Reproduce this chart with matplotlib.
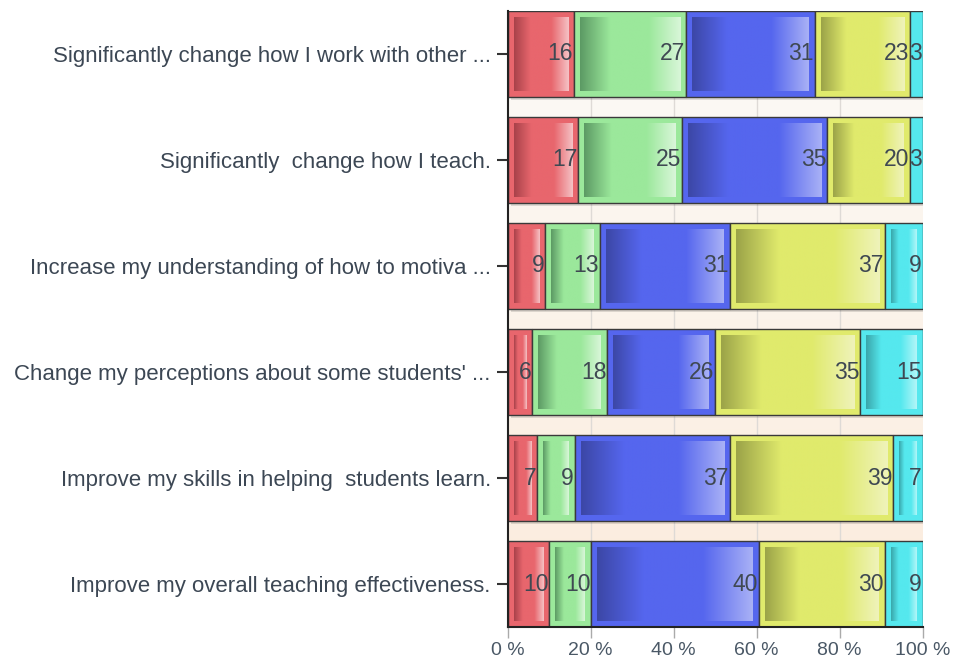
import numpy as np
import matplotlib
matplotlib.use("Agg")
import matplotlib.pyplot as plt
from matplotlib.colors import to_rgb

categories = [
    "Significantly change how I work with other ...",
    "Significantly  change how I teach.",
    "Increase my understanding of how to motiva ...",
    "Change my perceptions about some students' ...",
    "Improve my skills in helping  students learn.",
    "Improve my overall teaching effectiveness.",
]
s1 = [16, 17, 9, 6, 7, 10]
s2 = [27, 25, 13, 18, 9, 10]
s3 = [31, 35, 31, 26, 37, 40]
s4 = [23, 20, 37, 35, 39, 30]
s5 = [3, 3, 9, 15, 7, 9]
series = [s1, s2, s3, s4, s5]
xticks = [0, 20, 40, 60, 80, 100]
xticklabels = ["0 %", "20 %", "40 %", "60 %", "80 %", "100 %"]

base_colors = ["#e8666d", "#9be89b", "#5566ee", "#e0ea6c", "#55e8ee"]
dark_colors = ["#a8424a", "#5c9a64", "#3c47a6", "#9ba348", "#39a6aa"]
light_colors = ["#f5c2c5", "#d9f6d9", "#a9b1f6", "#eff3ba", "#b2f6f8"]

W, H, DPI = 955, 662, 100
fig = plt.figure(figsize=(W / DPI, H / DPI), dpi=DPI)
ax_left, ax_right = 507.5, 922.5
ax_top, ax_bot = 11, 627
ax = fig.add_axes([ax_left / W, 1 - ax_bot / H, (ax_right - ax_left) / W, (ax_bot - ax_top) / H])

n = len(categories)
ypos = np.arange(n)[::-1].astype(float)
bh = 0.81
ax.set_xlim(0, 100)
ax.set_ylim(-bh / 2, n - 1 + bh / 2)

# background gradient
grad = np.linspace(0, 1, 256)[:, None]
top_c = np.array(to_rgb("#fcfbf8"))
bot_c = np.array(to_rgb("#fbebdc"))
bg = top_c[None, None, :] * (1 - grad[:, :, None]) + bot_c[None, None, :] * grad[:, :, None]
ax.imshow(bg, extent=[0, 100, -bh / 2, n - 1 + bh / 2], aspect="auto", zorder=0, origin="upper")

for x in xticks[1:-1]:
    ax.axvline(x, color="#dedad6", lw=1.0, zorder=0.5)

totals = np.sum(np.array(series, dtype=float), axis=0)
px_x = 100.0 / (ax_right - ax_left)
px_y = 1.0 / 106.0
inset_x = 6 * px_x
inset_y = 6 * px_y

# shadow
ax.barh(ypos - 3 * px_y, 100, left=3 * px_x, height=bh, color="#000000", alpha=0.12, zorder=1, lw=0)

left = np.zeros(n)
for si, vals in enumerate(series):
    widths = np.array(vals, dtype=float) / totals * 100
    bars = ax.barh(ypos, widths, left=left, height=bh, color=base_colors[si],
                   edgecolor="#3a3a3a", linewidth=1.0, zorder=2)
    b = np.array(to_rgb(base_colors[si]))
    d = np.array(to_rgb(dark_colors[si]))
    l = np.array(to_rgb(light_colors[si]))
    t = np.linspace(0, 1, 200)
    cols = np.zeros((200, 3))
    for k, tt in enumerate(t):
        if tt < 0.3:
            f = tt / 0.3
            cols[k] = d * (1 - f) + b * f
        elif tt < 0.68:
            cols[k] = b
        else:
            f = (tt - 0.68) / 0.32
            cols[k] = b * (1 - f) + l * f
    img = cols[None, :, :]
    for rect, v in zip(bars.patches, vals):
        x0, y0 = rect.get_x(), rect.get_y()
        w, h = rect.get_width(), rect.get_height()
        if w > 3 * inset_x:
            ax.imshow(img, extent=[x0 + inset_x, x0 + w - inset_x, y0 + inset_y, y0 + h - inset_y],
                      aspect="auto", zorder=3, interpolation="bilinear")
        ax.text(x0 + w - 0.2, y0 + h / 2, str(v), ha="right", va="center",
                fontsize=16.5, color="#3f4852", family="Liberation Sans", zorder=5)
    left += widths

ax.set_yticks(ypos)
ax.set_yticklabels(categories, fontsize=16, color="#3c4754", family="Liberation Sans")
ax.set_xticks(xticks)
ax.set_xticklabels(xticklabels, fontsize=14, color="#4a5866", family="Liberation Sans")
ax.tick_params(axis="y", direction="out", length=8, width=1.5, color="#333333", pad=4)
ax.tick_params(axis="x", direction="out", length=8, width=1.0, color="#aaaaaa", pad=3)
for s in ["top", "right"]:
    ax.spines[s].set_visible(False)
ax.spines["left"].set_color("#222222")
ax.spines["left"].set_linewidth(1.5)
ax.spines["bottom"].set_color("#222222")
ax.spines["bottom"].set_linewidth(1.5)
ax.spines["left"].set_zorder(6)
ax.spines["bottom"].set_zorder(6)

fig.savefig("out.png", dpi=DPI)
